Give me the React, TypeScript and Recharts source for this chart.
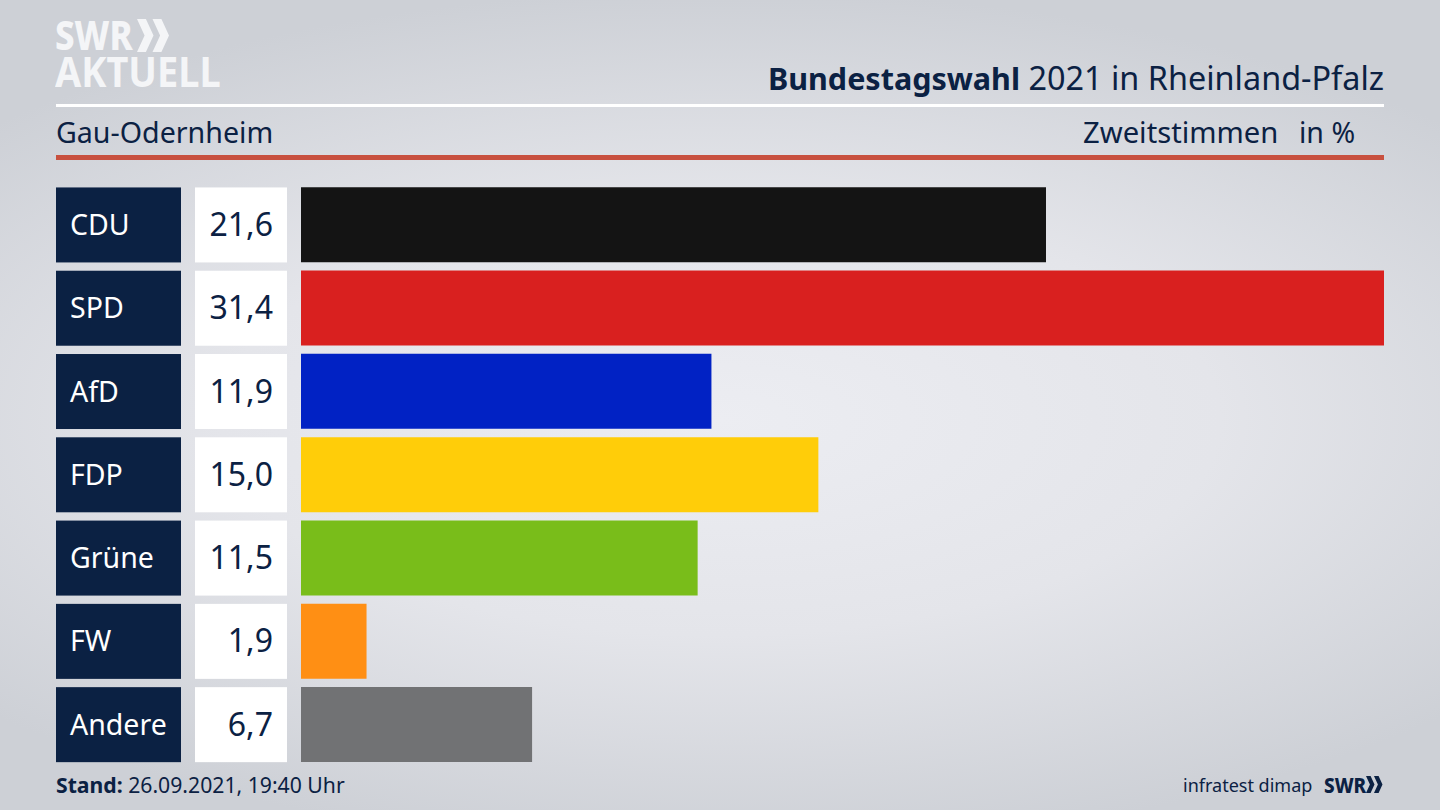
import { Bar, BarChart, Cell, XAxis, YAxis } from "recharts";

const parties = ["CDU", "SPD", "AfD", "FDP", "Grüne", "FW", "Andere"];
const shares = [21.6, 31.4, 11.9, 15.0, 11.5, 1.9, 6.7];
const shareLabels = ["21,6", "31,4", "11,9", "15,0", "11,5", "1,9", "6,7"];
const partyColors = ["#141414", "#d9201f", "#0122c4", "#ffcd09", "#79bd1a", "#ff8f14", "#717274"];

const NAVY = "#0b2143";
const FONT = "'Noto Sans', sans-serif";

const data = parties.map((party, i) => ({ party, share: shares[i] }));

interface PartyTickProps {
  x?: number;
  y?: number;
  index?: number;
}

// party name box + white value box, placed left of the plot on the band centre
function PartyTick({ x = 0, y = 0, index = 0 }: PartyTickProps) {
  return (
    <g>
      <rect x={x - 245} y={y - 37.5} width={125} height={75} fill={NAVY} />
      <text x={x - 231} y={y + 10} fontSize={28.5} fill="#fff" fontFamily={FONT}>
        {parties[index]}
      </text>
      <rect x={x - 106} y={y - 37.5} width={92} height={75} fill="#fff" />
      <text x={x - 28} y={y + 11} fontSize={32} fill={NAVY} fontFamily={FONT} textAnchor="end">
        {shareLabels[index]}
      </text>
    </g>
  );
}

function Chevrons({ x, y, h, color }: { x: number; y: number; h: number; color: string }) {
  const w = h * 0.5;
  const t = h * 0.27;
  const arrow = (ox: number) =>
    `M${ox} ${y} L${ox + t} ${y} L${ox + w} ${y + h / 2} L${ox + t} ${y + h} L${ox} ${y + h} L${ox + w - t} ${y + h / 2} Z`;
  return (
    <svg style={{ position: "absolute", left: 0, top: 0 }} width={1440} height={810}>
      <path d={arrow(x)} fill={color} />
      <path d={arrow(x + h * 0.47)} fill={color} />
    </svg>
  );
}

function Label({ style, children }: { style: React.CSSProperties; children: React.ReactNode }) {
  return (
    <div style={{ position: "absolute", whiteSpace: "nowrap", color: NAVY, fontFamily: FONT, ...style }}>
      {children}
    </div>
  );
}

export default function App() {
  return (
    <div
      style={{
        position: "absolute",
        left: 0,
        top: 0,
        width: 1440,
        height: 810,
        overflow: "hidden",
        background: "radial-gradient(ellipse 1000px 430px at 720px 420px, #ecedf2 0%, #e4e5ea 50%, #cdd0d6 100%)",
      }}
    >
      <Label
        style={{
          left: 55,
          top: 18,
          fontSize: 41,
          fontWeight: 800,
          color: "#f4f5f7",
          lineHeight: "32px",
          transform: "scaleX(0.85)",
          transformOrigin: "left",
        }}
      >
        SWR
      </Label>
      <Chevrons x={137} y={19} h={33} color="#f4f5f7" />
      <Label
        style={{
          left: 55,
          top: 55,
          fontSize: 41,
          fontWeight: 700,
          color: "#f4f5f7",
          lineHeight: "32px",
          transform: "scaleX(0.925)",
          transformOrigin: "left",
        }}
      >
        AKTUELL
      </Label>

      <Label style={{ right: 56, top: 56, fontSize: 32.4, lineHeight: "42px" }}>
        <b style={{ fontSize: 30.5 }}>Bundestagswahl</b> 2021 in Rheinland-Pfalz
      </Label>
      <div style={{ position: "absolute", left: 56, top: 104, width: 1328, height: 3, background: "#fff" }} />
      <Label style={{ left: 56, top: 112, fontSize: 28.6, lineHeight: "40px" }}>Gau-Odernheim</Label>
      <Label style={{ left: 1083, top: 112, fontSize: 29.2, lineHeight: "40px" }}>Zweitstimmen</Label>
      <Label style={{ left: 1299, top: 112, fontSize: 28.5, lineHeight: "40px" }}>in %</Label>
      <div style={{ position: "absolute", left: 56, top: 155, width: 1328, height: 5, background: "#c8503f" }} />

      <div style={{ position: "absolute", left: 0, top: 0 }}>
        <BarChart
          width={1440}
          height={810}
          data={data}
          layout="vertical"
          margin={{ top: 183.3, right: 56, bottom: 43.7, left: 56 }}
          barCategoryGap={0}
        >
          <XAxis type="number" domain={[0, 31.4]} hide />
          <YAxis
            type="category"
            dataKey="party"
            width={245}
            axisLine={false}
            tickLine={false}
            tickMargin={0}
            tickSize={0}
            interval={0}
            tick={<PartyTick />}
          />
          <Bar dataKey="share" barSize={75} isAnimationActive={false}>
            {partyColors.map((color) => (
              <Cell key={color} fill={color} />
            ))}
          </Bar>
        </BarChart>
      </div>

      <Label style={{ left: 56, top: 770, fontSize: 21.2, lineHeight: "30px" }}>
        <b>Stand:</b> 26.09.2021, 19:40 Uhr
      </Label>
      <Label style={{ left: 1183, top: 770, fontSize: 18, lineHeight: "30px" }}>infratest dimap</Label>
      <Label
        style={{
          left: 1324,
          top: 770,
          fontSize: 21,
          fontWeight: 800,
          lineHeight: "30px",
          transform: "scaleX(0.9)",
          transformOrigin: "left",
        }}
      >
        SWR
      </Label>
      <Chevrons x={1366} y={776} h={17} color={NAVY} />
    </div>
  );
}
